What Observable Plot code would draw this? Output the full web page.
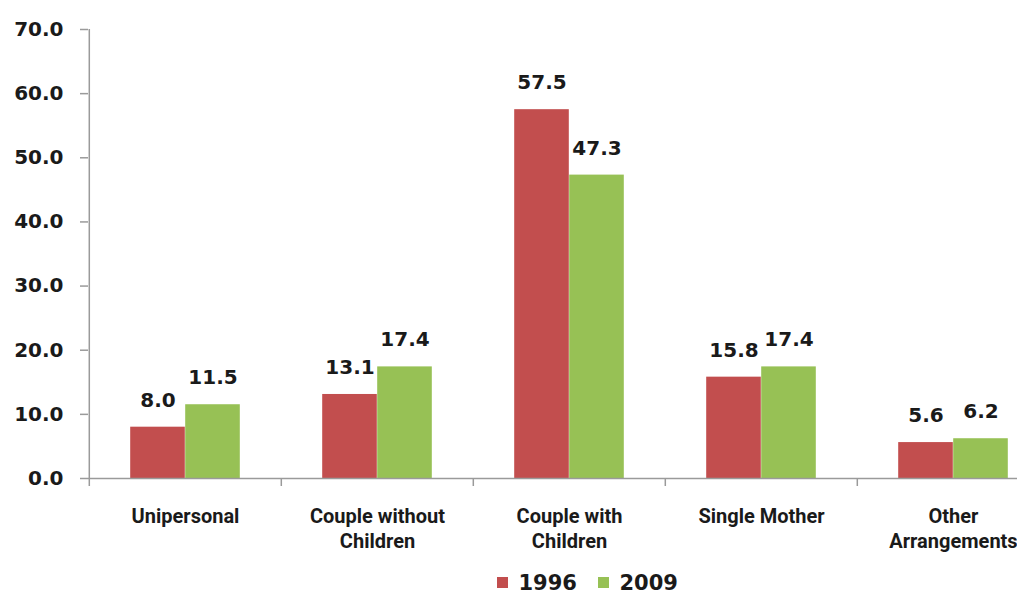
<!DOCTYPE html>
<html><head><meta charset="utf-8">
<script src="https://cdn.jsdelivr.net/npm/d3@7"></script>
<script src="https://cdn.jsdelivr.net/npm/@observablehq/plot@0.6"></script>
<style>
body{margin:0;background:#fff;}
#chart svg{overflow:hidden;}
#legend{padding-left:497px;margin-top:6px;}
#legend, #legend *{font-family:"DejaVu Sans";font-weight:bold;font-size:21px;color:#1a1a1a;}
</style></head><body><div id="chart"></div><div id="legend"></div>
<script>
const categories = ["Unipersonal","Couple without Children","Couple with Children","Single Mother","Other Arrangements"];
const categoryLabels = ["Unipersonal","Couple without\nChildren","Couple with\nChildren","Single Mother","Other\nArrangements"];
const years = ["1996","2009"];
const values1996 = [8.0,13.1,57.5,15.8,5.6];
const values2009 = [11.5,17.4,47.3,17.4,6.2];
const yTicks = [0,10,20,30,40,50,60,70];
const colors = ["#c24e4e","#97c155"];

const rows = categories.flatMap((c,i)=>[
  {cat:c, year:years[0], value:values1996[i]},
  {cat:c, year:years[1], value:values2009[i]}
]);
const labelOf = new Map(categories.map((c,i)=>[c,categoryLabels[i]]));

const W=1017, H=560, pLeft=88, pRight=1050, pTop=29, pBottom=478;
const band=(pRight-pLeft)/categories.length, barW=55;
const outer=band/2-barW;
const num = {fontFamily:"DejaVu Sans", fontWeight:"bold", fontSize:20, fill:"#1a1a1a"};

const plot = Plot.plot({
  width:W, height:H, marginLeft:pLeft, marginTop:pTop, marginBottom:H-pBottom, marginRight:0,
  style:{background:"#fff", color:"#1a1a1a"},
  x:{type:"band", domain:categories, range:[pLeft,pRight], padding:0, axis:null, label:null},
  y:{domain:[d3.min(yTicks), d3.max(yTicks)], range:[pBottom, pTop], axis:null, label:null},
  color:{domain:years, range:colors},
  marks:[
    Plot.barY(rows, {filter:d=>d.year===years[0], x:"cat", y:"value", fill:"year", insetLeft:outer, insetRight:band/2}),
    Plot.barY(rows, {filter:d=>d.year===years[1], x:"cat", y:"value", fill:"year", insetLeft:band/2, insetRight:outer}),
    Plot.text(rows, {filter:d=>d.year===years[0], x:"cat", y:"value", text:d=>d.value.toFixed(1), dx:-barW/2, dy:-27, lineAnchor:"middle", ...num}),
    Plot.text(rows, {filter:d=>d.year===years[1], x:"cat", y:"value", text:d=>d.value.toFixed(1), dx:barW/2, dy:-27, lineAnchor:"middle", ...num}),
    Plot.ruleY([0], {stroke:"#9a9a9a", strokeWidth:1.5}),
    Plot.ruleX([categories[0]], {dx:-band/2, stroke:"#9a9a9a", strokeWidth:1.5}),
    Plot.axisX({ticks:categories, tickSize:8, dx:-band/2, tickFormat:()=>"", label:null, stroke:"#9a9a9a", strokeWidth:1.5}),
    Plot.axisX({ticks:categories, tickSize:0, tickPadding:27, label:null, tickFormat:c=>labelOf.get(c), fontFamily:"Roboto", fontWeight:"bold", fontSize:20, lineHeight:1.25, fill:"#1a1a1a"}),
    Plot.axisY({ticks:yTicks, tickFormat:d=>d.toFixed(1), tickSize:8, tickPadding:17, label:null, stroke:"#9a9a9a", strokeWidth:1.5, ...num})
  ]
});
document.getElementById("chart").append(plot);
document.getElementById("legend").append(plot.legend("color", {swatchSize:11}));
</script></body></html>
